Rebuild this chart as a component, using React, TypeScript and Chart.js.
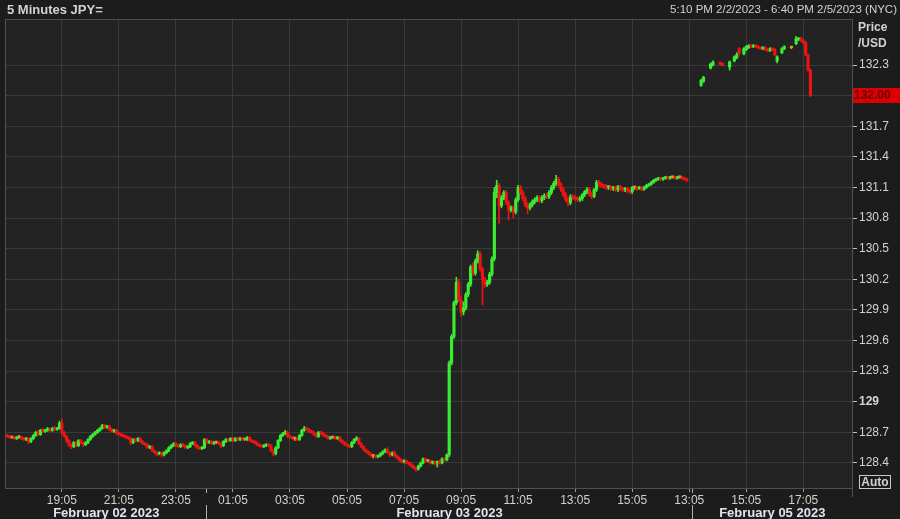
import { useEffect, useRef } from "react";
import { Chart, registerables } from "chart.js";
Chart.register(...registerables);

const FONT = "'Liberation Sans', Arial, sans-serif";

const titleText = "5 Minutes JPY=";
const rangeText = "5:10 PM 2/2/2023 - 6:40 PM 2/5/2023 (NYC)";
const axisTitle = ["Price", "/USD"];

// 5-minute bar positions used for time ticks (bar 0 = 17:10 Feb 2)
const timeTickIndex = [23, 47, 71, 95, 119, 143, 167, 191, 215, 239, 263, 287, 311, 335];
const timeTickLabels = ["19:05", "21:05", "23:05", "01:05", "03:05", "05:05", "07:05", "09:05", "11:05", "13:05", "15:05", "13:05", "15:05", "17:05"];
const dayLabels = ["February 02 2023", "February 03 2023", "February 05 2023"];
const dayBreaks = [83.7, 288.3];
const barSlots = 356;

const priceTicks = [128.4, 128.7, 129, 129.3, 129.6, 129.9, 130.2, 130.5, 130.8, 131.1, 131.4, 131.7, 132, 132.3];
const priceTickLabels = ["128.4", "128.7", "129", "129.3", "129.6", "129.9", "130.2", "130.5", "130.8", "131.1", "131.4", "131.7", "", "132.3"];
const yMin = 128.155;
const yMax = 132.741;
const lastPrice = 132.0;

// Feb 2 17:10 -> Feb 3 17:00, one row per hour
const opens = [
  128.67,128.66,128.65,128.65,128.64,128.65,128.65,128.64,128.63,128.64,128.61,128.64,
  128.67,128.70,128.68,128.72,128.71,128.72,128.73,128.72,128.74,128.73,128.74,128.79,
  128.70,128.66,128.62,128.58,128.56,128.60,128.57,128.62,128.60,128.58,128.60,128.63,
  128.66,128.68,128.70,128.72,128.74,128.77,128.75,128.76,128.73,128.71,128.72,128.69,
  128.68,128.67,128.66,128.65,128.64,128.60,128.63,128.62,128.64,128.61,128.59,128.58,
  128.55,128.56,128.52,128.50,128.49,128.50,128.48,128.50,128.52,128.55,128.57,128.59,
  128.57,128.56,128.58,128.57,128.55,128.56,128.59,128.60,128.57,128.55,128.54,128.55,
  128.63,128.60,128.61,128.59,128.60,128.60,128.59,128.57,128.61,128.63,128.62,128.64,
  128.62,128.64,128.63,128.64,128.63,128.63,128.65,128.62,128.61,128.60,128.58,128.57,
  128.56,128.57,128.58,128.57,128.52,128.49,128.55,128.62,128.67,128.69,128.70,128.66,
  128.65,128.64,128.64,128.63,128.67,128.72,128.74,128.73,128.71,128.70,128.68,128.66,
  128.70,128.69,128.67,128.66,128.64,128.65,128.65,128.64,128.65,128.62,128.60,128.58,
  128.57,128.56,128.60,128.63,128.64,128.59,128.56,128.53,128.51,128.49,128.47,128.47,
  128.46,128.47,128.49,128.51,128.53,128.50,128.48,128.50,128.47,128.45,128.43,128.41,
  128.42,128.40,128.39,128.37,128.35,128.34,128.37,128.40,128.44,128.42,128.42,128.40,
  128.41,128.40,128.41,128.40,128.44,128.43,128.48,129.38,129.64,129.97,130.17,130.00,
  129.88,129.92,130.05,130.15,130.32,130.26,130.38,130.45,130.30,130.20,130.15,130.17,
  130.25,130.40,131.05,131.12,130.92,131.00,131.05,130.95,130.88,130.90,130.86,130.98,
  131.10,131.05,130.99,130.93,130.90,130.93,130.96,130.98,131.00,130.97,131.00,131.02,
  131.01,131.05,131.10,131.14,131.18,131.13,131.08,131.03,130.98,130.95,131.01,131.00,
  130.99,130.98,130.99,131.03,131.06,131.08,131.03,131.01,131.08,131.15,131.13,131.12,
  131.11,131.10,131.11,131.09,131.10,131.08,131.11,131.09,131.08,131.09,131.07,131.06,
  131.10,131.10,131.09,131.10,131.08,131.10,131.12,131.13,131.15,131.17,131.18,131.19,
  131.18,131.19,131.20,131.19,131.20,131.20,131.19,131.20,131.20,131.19,131.18,
];
const highs = [
  128.68,128.67,128.66,128.66,128.66,128.67,128.66,128.65,128.65,128.65,128.65,128.68,
  128.71,128.72,128.73,128.74,128.73,128.75,128.74,128.75,128.76,128.75,128.81,128.83,
  128.71,128.67,128.63,128.59,128.61,128.61,128.63,128.63,128.61,128.61,128.64,128.67,
  128.69,128.71,128.73,128.75,128.78,128.78,128.77,128.77,128.74,128.73,128.73,128.70,
  128.69,128.68,128.67,128.66,128.65,128.64,128.64,128.65,128.65,128.62,128.60,128.59,
  128.57,128.57,128.53,128.51,128.51,128.51,128.51,128.53,128.56,128.58,128.60,128.60,
  128.58,128.59,128.59,128.58,128.57,128.60,128.61,128.61,128.58,128.56,128.56,128.64,
  128.64,128.62,128.62,128.61,128.61,128.61,128.60,128.62,128.64,128.64,128.65,128.65,
  128.65,128.65,128.65,128.65,128.64,128.66,128.66,128.63,128.62,128.61,128.59,128.58,
  128.58,128.59,128.59,128.58,128.53,128.56,128.63,128.68,128.70,128.72,128.71,128.67,
  128.66,128.65,128.65,128.68,128.73,128.76,128.75,128.74,128.72,128.71,128.69,128.71,
  128.71,128.70,128.68,128.67,128.66,128.66,128.66,128.66,128.66,128.63,128.61,128.59,
  128.58,128.61,128.64,128.66,128.65,128.60,128.57,128.54,128.52,128.50,128.48,128.48,
  128.48,128.50,128.52,128.54,128.55,128.51,128.51,128.52,128.48,128.46,128.44,128.43,
  128.43,128.41,128.40,128.38,128.36,128.38,128.41,128.45,128.45,128.43,128.43,128.42,
  128.42,128.42,128.43,128.45,128.45,128.49,129.40,129.66,129.99,130.22,130.20,130.04,
  129.98,130.07,130.17,130.34,130.36,130.40,130.48,130.47,130.32,130.22,130.19,130.27,
  130.42,131.10,131.17,131.14,131.02,131.07,131.07,130.97,130.92,130.92,131.00,131.12,
  131.12,131.07,131.01,130.95,130.95,130.98,131.00,131.02,131.02,131.02,131.04,131.04,
  131.07,131.12,131.16,131.22,131.20,131.15,131.10,131.05,131.00,131.03,131.03,131.02,
  131.01,131.01,131.04,131.07,131.10,131.10,131.05,131.09,131.17,131.17,131.15,131.13,
  131.13,131.12,131.12,131.11,131.11,131.12,131.12,131.10,131.10,131.10,131.08,131.11,
  131.11,131.11,131.11,131.11,131.11,131.13,131.14,131.16,131.18,131.19,131.20,131.20,
  131.20,131.21,131.21,131.21,131.21,131.21,131.21,131.21,131.21,131.20,131.19,
];
const lows = [
  128.65,128.64,128.64,128.63,128.63,128.64,128.63,128.62,128.62,128.59,128.60,128.63,
  128.66,128.67,128.67,128.70,128.70,128.71,128.71,128.71,128.72,128.72,128.73,128.68,
  128.65,128.60,128.56,128.54,128.55,128.56,128.56,128.59,128.56,128.57,128.59,128.62,
  128.65,128.67,128.69,128.71,128.73,128.74,128.74,128.72,128.70,128.70,128.68,128.67,
  128.66,128.65,128.64,128.63,128.58,128.59,128.61,128.61,128.60,128.58,128.57,128.54,
  128.54,128.51,128.49,128.47,128.48,128.46,128.47,128.49,128.51,128.54,128.56,128.56,
  128.55,128.55,128.56,128.54,128.54,128.55,128.58,128.56,128.54,128.53,128.53,128.54,
  128.59,128.59,128.58,128.58,128.59,128.58,128.55,128.56,128.60,128.61,128.61,128.61,
  128.61,128.62,128.62,128.62,128.62,128.62,128.61,128.60,128.59,128.57,128.56,128.55,
  128.55,128.56,128.56,128.51,128.47,128.48,128.54,128.61,128.66,128.68,128.65,128.64,
  128.63,128.62,128.62,128.62,128.66,128.71,128.72,128.70,128.69,128.67,128.65,128.65,
  128.68,128.66,128.65,128.63,128.63,128.64,128.63,128.63,128.61,128.59,128.57,128.56,
  128.55,128.55,128.59,128.62,128.58,128.55,128.52,128.50,128.48,128.46,128.45,128.45,
  128.45,128.46,128.48,128.50,128.49,128.46,128.47,128.46,128.44,128.42,128.40,128.40,
  128.39,128.38,128.36,128.34,128.32,128.33,128.36,128.39,128.41,128.41,128.39,128.39,
  128.38,128.36,128.39,128.39,128.42,128.42,128.46,129.36,129.62,129.95,129.98,129.84,
  129.85,129.90,130.03,130.13,130.24,130.24,130.36,130.28,129.95,130.12,130.13,130.15,
  130.23,130.38,131.00,130.75,130.90,130.98,130.93,130.78,130.86,130.80,130.84,130.96,
  131.03,130.97,130.91,130.84,130.88,130.91,130.94,130.96,130.95,130.95,130.98,130.99,
  130.99,131.03,131.08,131.12,131.11,131.06,131.01,130.96,130.92,130.93,130.98,130.97,
  130.96,130.96,130.97,131.01,131.04,131.01,130.99,131.00,131.06,131.11,131.10,131.09,
  131.08,131.08,131.07,131.07,131.06,131.06,131.07,131.06,131.06,131.05,131.04,131.04,
  131.08,131.07,131.08,131.07,131.07,131.09,131.11,131.12,131.14,131.16,131.17,131.17,
  131.17,131.18,131.18,131.18,131.19,131.18,131.18,131.19,131.18,131.17,131.16,
];
const closes = [
  128.66,128.65,128.65,128.64,128.65,128.65,128.64,128.63,128.64,128.61,128.64,128.67,
  128.70,128.68,128.72,128.71,128.72,128.73,128.72,128.74,128.73,128.74,128.79,128.70,
  128.66,128.62,128.58,128.56,128.60,128.57,128.62,128.60,128.58,128.60,128.63,128.66,
  128.68,128.70,128.72,128.74,128.77,128.75,128.76,128.73,128.71,128.72,128.69,128.68,
  128.67,128.66,128.65,128.64,128.60,128.63,128.62,128.64,128.61,128.59,128.58,128.55,
  128.56,128.52,128.50,128.49,128.50,128.48,128.50,128.52,128.55,128.57,128.59,128.57,
  128.56,128.58,128.57,128.55,128.56,128.59,128.60,128.57,128.55,128.54,128.55,128.63,
  128.60,128.61,128.59,128.60,128.60,128.59,128.57,128.61,128.63,128.62,128.64,128.62,
  128.64,128.63,128.64,128.63,128.63,128.65,128.62,128.61,128.60,128.58,128.57,128.56,
  128.57,128.58,128.57,128.52,128.49,128.55,128.62,128.67,128.69,128.70,128.66,128.65,
  128.64,128.64,128.63,128.67,128.72,128.74,128.73,128.71,128.70,128.68,128.66,128.70,
  128.69,128.67,128.66,128.64,128.65,128.65,128.64,128.65,128.62,128.60,128.58,128.57,
  128.56,128.60,128.63,128.64,128.59,128.56,128.53,128.51,128.49,128.47,128.47,128.46,
  128.47,128.49,128.51,128.53,128.50,128.48,128.50,128.47,128.45,128.43,128.41,128.42,
  128.40,128.39,128.37,128.35,128.34,128.37,128.40,128.44,128.42,128.42,128.40,128.41,
  128.40,128.41,128.40,128.44,128.43,128.48,129.38,129.64,129.97,130.17,130.00,129.88,
  129.92,130.05,130.15,130.32,130.26,130.38,130.45,130.30,130.20,130.15,130.17,130.25,
  130.40,131.05,131.12,130.92,131.00,131.05,130.95,130.88,130.90,130.86,130.98,131.10,
  131.05,130.99,130.93,130.90,130.93,130.96,130.98,131.00,130.97,131.00,131.02,131.01,
  131.05,131.10,131.14,131.18,131.13,131.08,131.03,130.98,130.95,131.01,131.00,130.99,
  130.98,130.99,131.03,131.06,131.08,131.03,131.01,131.08,131.15,131.13,131.12,131.11,
  131.10,131.11,131.09,131.10,131.08,131.11,131.09,131.08,131.09,131.07,131.06,131.10,
  131.10,131.09,131.10,131.08,131.10,131.12,131.13,131.15,131.17,131.18,131.19,131.18,
  131.19,131.20,131.19,131.20,131.20,131.19,131.20,131.20,131.19,131.18,131.17,
];

// Feb 5 session (sparse bars)
const sundayBars = [292,293,296,297,300,301,304,306,307,308,310,311,312,313,314,315,316,317,318,319,320,321,322,323,324,326,327,330,332,333,334,335,336,337,338];
const sundayOpens = [132.10,132.14,132.27,132.30,132.32,132.31,132.28,132.34,132.37,132.46,132.41,132.45,132.47,132.49,132.48,132.49,132.48,132.47,132.46,132.47,132.45,132.44,132.46,132.45,132.34,132.42,132.46,132.47,132.51,132.55,132.56,132.54,132.52,132.40,132.25];
const sundayHighs = [132.16,132.19,132.32,132.34,132.33,132.32,132.34,132.39,132.42,132.47,132.47,132.49,132.50,132.50,132.50,132.50,132.49,132.48,132.48,132.48,132.46,132.47,132.47,132.46,132.39,132.47,132.49,132.48,132.58,132.57,132.57,132.55,132.53,132.41,132.26];
const sundayLows = [132.09,132.13,132.26,132.29,132.30,132.29,132.25,132.33,132.36,132.40,132.40,132.44,132.46,132.47,132.47,132.47,132.46,132.45,132.45,132.44,132.43,132.43,132.44,132.39,132.32,132.41,132.45,132.46,132.50,132.54,132.53,132.51,132.39,132.24,131.99];
const sundayCloses = [132.15,132.18,132.31,132.33,132.31,132.30,132.33,132.38,132.40,132.41,132.46,132.48,132.49,132.48,132.49,132.48,132.47,132.46,132.47,132.45,132.44,132.46,132.45,132.40,132.38,132.46,132.48,132.47,132.56,132.56,132.54,132.52,132.40,132.25,132.00];

const UP = "#3aee32";
const DOWN = "#ee1414";
const FLAT = "#c9a035";
const PAGE_BG = "#1c1c1c";
const PLOT_BG = "#232323";
const GRID = "#3a3a3a";
const TEXT = "#d2d2d2";

type Candle = { x: number; o: number; h: number; l: number; c: number };

export default function App() {
  const ref = useRef<HTMLCanvasElement | null>(null);

  useEffect(() => {
    const candles: Candle[] = [];
    opens.forEach((o, i) => candles.push({ x: i, o, h: highs[i], l: lows[i], c: closes[i] }));
    sundayBars.forEach((x, k) =>
      candles.push({ x, o: sundayOpens[k], h: sundayHighs[k], l: sundayLows[k], c: sundayCloses[k] })
    );
    const colors = candles.map((d) => (d.c > d.o ? UP : d.c < d.o ? DOWN : FLAT));

    const decor = {
      id: "decor",
      beforeDraw(chart: any) {
        const { ctx, chartArea: a } = chart;
        ctx.save();
        ctx.fillStyle = PAGE_BG;
        ctx.fillRect(0, 0, chart.width, chart.height);
        ctx.fillStyle = PLOT_BG;
        ctx.fillRect(a.left, a.top, a.right - a.left, a.bottom - a.top);
        ctx.restore();
      },
      afterDraw(chart: any) {
        const { ctx, chartArea: a } = chart;
        const xs = chart.scales.x;
        const ys = chart.scales.y;
        ctx.save();
        // plot frame
        ctx.strokeStyle = "#505050";
        ctx.lineWidth = 1;
        ctx.strokeRect(a.left - 0.5, a.top - 0.5, a.right - a.left + 1, a.bottom - a.top + 1);
        ctx.beginPath();
        ctx.moveTo(a.right + 0.5, a.bottom);
        ctx.lineTo(a.right + 0.5, a.bottom + 9);
        ctx.stroke();
        // header
        ctx.fillStyle = TEXT;
        ctx.textBaseline = "middle";
        ctx.textAlign = "left";
        ctx.font = `bold 13px ${FONT}`;
        ctx.fillText(titleText, 7, 10);
        ctx.font = `11.5px ${FONT}`;
        ctx.textAlign = "right";
        ctx.fillText(rangeText, 897, 10);
        // axis title
        ctx.textAlign = "left";
        ctx.font = `bold 12px ${FONT}`;
        ctx.fillText(axisTitle[0], 858, 28);
        ctx.fillText(axisTitle[1], 858, 44);
        // last price box
        const py = ys.getPixelForValue(lastPrice);
        ctx.fillStyle = "#dd0000";
        ctx.fillRect(a.right + 1, Math.round(py) - 8, chart.width - a.right - 1, 15);
        ctx.fillStyle = "#6a0000";
        ctx.font = `bold 12px ${FONT}`;
        ctx.fillText(lastPrice.toFixed(2), a.right + 2, Math.round(py));
        // Auto box
        ctx.strokeStyle = "#c8c8c8";
        ctx.strokeRect(859.5, 475.5, 31, 13);
        ctx.fillStyle = TEXT;
        ctx.font = `bold 12px ${FONT}`;
        ctx.textAlign = "center";
        ctx.fillText("Auto", 875, 482.5);
        // day breaks and date row
        ctx.strokeStyle = "#b0b0b0";
        const bx = dayBreaks.map((b) => Math.round(xs.getPixelForValue(b)) + 0.5);
        bx.forEach((x) => {
          ctx.beginPath();
          ctx.moveTo(x, a.bottom + 1);
          ctx.lineTo(x, a.bottom + 5);
          ctx.moveTo(x, 505);
          ctx.lineTo(x, 519);
          ctx.stroke();
        });
        const edges = [a.left, bx[0], bx[1], a.right];
        ctx.fillStyle = "#dde5f0";
        ctx.font = `bold 13px ${FONT}`;
        ctx.textAlign = "center";
        dayLabels.forEach((t, k) => ctx.fillText(t, (edges[k] + edges[k + 1]) / 2, 513));
        ctx.restore();
      },
    };

    const chart = new Chart(ref.current as HTMLCanvasElement, {
      type: "bar",
      data: {
        datasets: [
          {
            data: candles.map((d) => ({ x: d.x, y: [d.l, d.h] })) as any,
            backgroundColor: colors,
            barThickness: 1,
            grouped: false,
            borderWidth: 0,
          } as any,
          {
            data: candles.map((d) => ({ x: d.x, y: [d.o, d.c] })) as any,
            backgroundColor: colors,
            barThickness: 2.5,
            minBarLength: 1.5,
            grouped: false,
            borderWidth: 0,
          } as any,
        ],
      },
      options: {
        animation: false,
        responsive: true,
        maintainAspectRatio: false,
        layout: { padding: { left: 6, top: 20, right: 0, bottom: 0 } },
        plugins: { legend: { display: false }, tooltip: { enabled: false } },
        scales: {
          x: {
            type: "linear",
            min: -0.5,
            max: barSlots - 0.5,
            offset: false,
            afterBuildTicks: (s: any) => {
              s.ticks = timeTickIndex.map((v) => ({ value: v }));
            },
            afterFit: (s: any) => {
              s.height = 31;
            },
            grid: { color: GRID, offset: false, drawTicks: true, tickLength: 4, tickColor: "#9a9a9a" },
            border: { display: false },
            ticks: {
              autoSkip: false,
              maxRotation: 0,
              padding: 1,
              color: TEXT,
              font: { family: FONT, size: 12 },
              callback: (_v: any, i: number) => timeTickLabels[i] ?? "",
            },
          } as any,
          y: {
            type: "linear",
            position: "right",
            min: yMin,
            max: yMax,
            afterBuildTicks: (s: any) => {
              s.ticks = priceTicks.map((v) => ({ value: v }));
            },
            afterFit: (s: any) => {
              s.width = 48;
            },
            grid: { color: GRID, drawTicks: true, tickLength: 5, tickColor: "#c0c0c0" },
            border: { display: false },
            ticks: {
              padding: 2,
              color: TEXT,
              font: (c: any) => ({ family: FONT, size: 12, weight: c.tick && c.tick.value === 129 ? "bold" : "normal" }),
              callback: (_v: any, i: number) => priceTickLabels[i] ?? "",
            },
          } as any,
        },
      },
      plugins: [decor],
    });
    return () => chart.destroy();
  }, []);

  return (
    <div style={{ position: "fixed", left: 0, top: 0, width: 900, height: 519, background: PAGE_BG }}>
      <canvas ref={ref} />
    </div>
  );
}
